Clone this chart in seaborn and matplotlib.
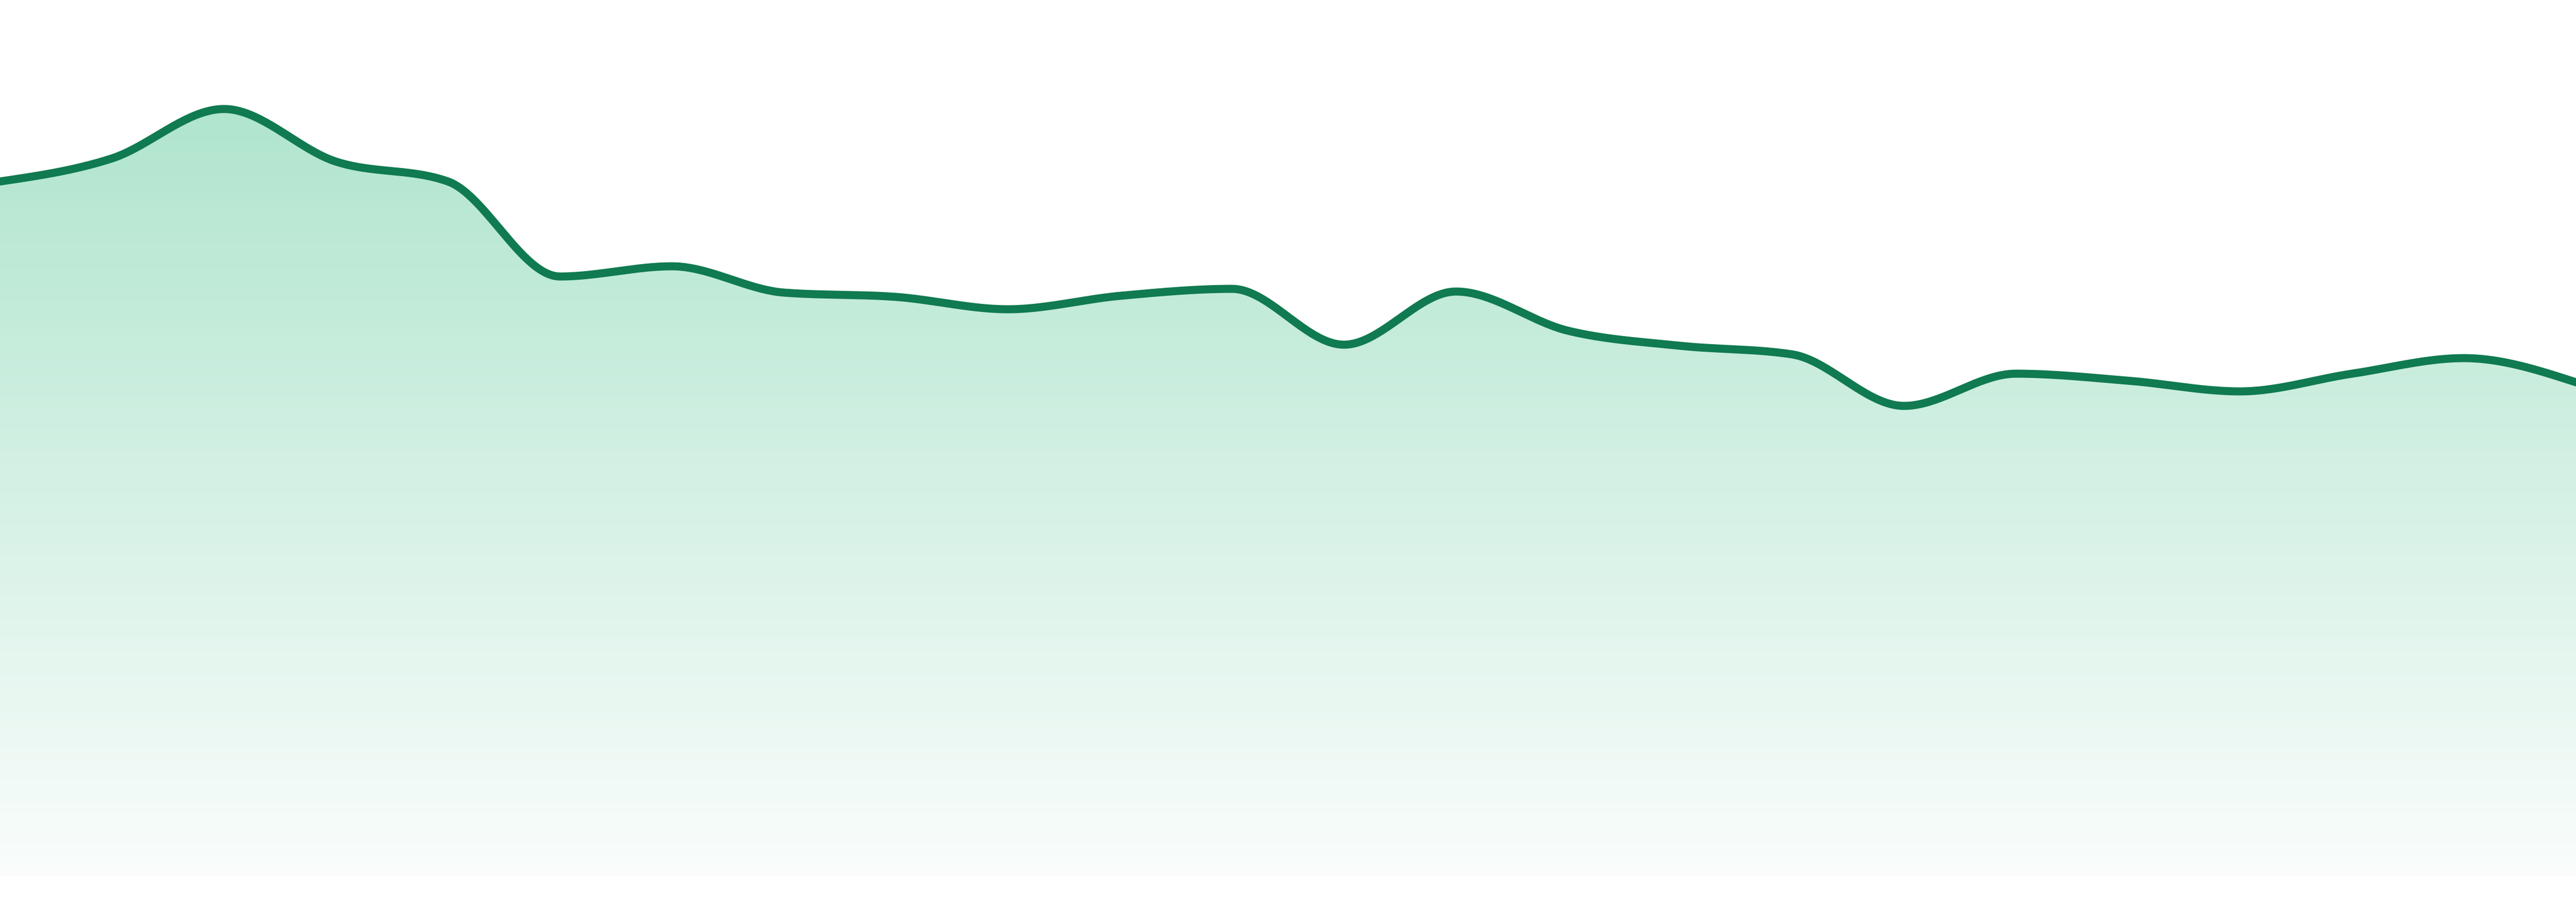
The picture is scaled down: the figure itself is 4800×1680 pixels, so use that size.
import numpy as np
import pandas as pd
import matplotlib
matplotlib.use("Agg")
import matplotlib.pyplot as plt
import seaborn as sns
from matplotlib.patches import Polygon

# ---- data -------------------------------------------------------------
points = list(range(24))
values = [129.4, 133.7, 142.9, 133.1, 129.4, 111.7, 113.6, 108.7, 107.9, 105.6,
          108.1, 109.4, 99.0, 108.9, 101.6, 98.8, 97.2, 87.6, 93.6, 92.3,
          90.3, 93.6, 96.5, 92.0]

line_color = "#107a50"
fill_top = "#b0e5ce"
fill_bottom = "#fafdfc"


def monotone_x(x, y, n=40):
    """d3.curveMonotoneX style cubic Hermite interpolation."""
    x = np.asarray(x, float)
    y = np.asarray(y, float)
    h = np.diff(x)
    s = np.diff(y) / h
    m = np.zeros_like(y)
    for i in range(1, len(y) - 1):
        s0, s1 = s[i - 1], s[i]
        h0, h1 = h[i - 1], h[i]
        p = (s0 * h1 + s1 * h0) / (h0 + h1)
        m[i] = (np.sign(s0) + np.sign(s1)) * min(abs(s0), abs(s1), 0.5 * abs(p))
    m[0] = (3 * s[0] - m[1]) / 2
    m[-1] = (3 * s[-1] - m[-2]) / 2
    xs, ys = [], []
    for i in range(len(x) - 1):
        t = np.linspace(0, 1, n, endpoint=(i == len(x) - 2))
        h00 = 2 * t**3 - 3 * t**2 + 1
        h10 = t**3 - 2 * t**2 + t
        h01 = -2 * t**3 + 3 * t**2
        h11 = t**3 - t**2
        xs.append(x[i] + t * h[i])
        ys.append(h00 * y[i] + h10 * h[i] * m[i] + h01 * y[i + 1] + h11 * h[i] * m[i + 1])
    return np.concatenate(xs), np.concatenate(ys)


sx, sy = monotone_x(points, values)
curve = pd.DataFrame({"x": sx, "y": sy})

sns.set_theme(style="white")
fig = plt.figure(figsize=(16, 5.6), dpi=300)
fig.patch.set_facecolor("white")
ax = fig.add_axes([0, 0, 1, 1])
ax.set_facecolor("white")

ymin, ymax = -4.8, 163.2
ax.set_xlim(points[0], points[-1])
ax.set_ylim(ymin, ymax)

# gradient fill under the curve
top_v = max(values)
c_top = np.array(matplotlib.colors.to_rgb(fill_top))
c_bot = np.array(matplotlib.colors.to_rgb(fill_bottom))
ny = 512
frac = np.linspace(0, 1, ny)[:, None]  # 0 at top -> 1 at bottom
grad = c_top[None, :] * (1 - frac) + c_bot[None, :] * frac
grad = np.repeat(grad[:, None, :], 2, axis=1)
img = ax.imshow(grad, extent=[points[0], points[-1], 0, top_v], aspect="auto",
                origin="upper", interpolation="bilinear", zorder=1)
poly_xy = np.column_stack([np.r_[sx, sx[-1], sx[0]], np.r_[sy, 0, 0]])
clip = Polygon(poly_xy, closed=True, transform=ax.transData, facecolor="none",
               edgecolor="none")
ax.add_patch(clip)
img.set_clip_path(clip)

sns.lineplot(data=curve, x="x", y="y", ax=ax, color=line_color, linewidth=3.6,
             sort=False, estimator=None, zorder=3)

ax.set_xlim(points[0], points[-1])
ax.set_ylim(ymin, ymax)
ax.set_axis_off()
if ax.get_legend() is not None:
    ax.get_legend().remove()

fig.savefig("out.png", dpi=300, facecolor="white")
